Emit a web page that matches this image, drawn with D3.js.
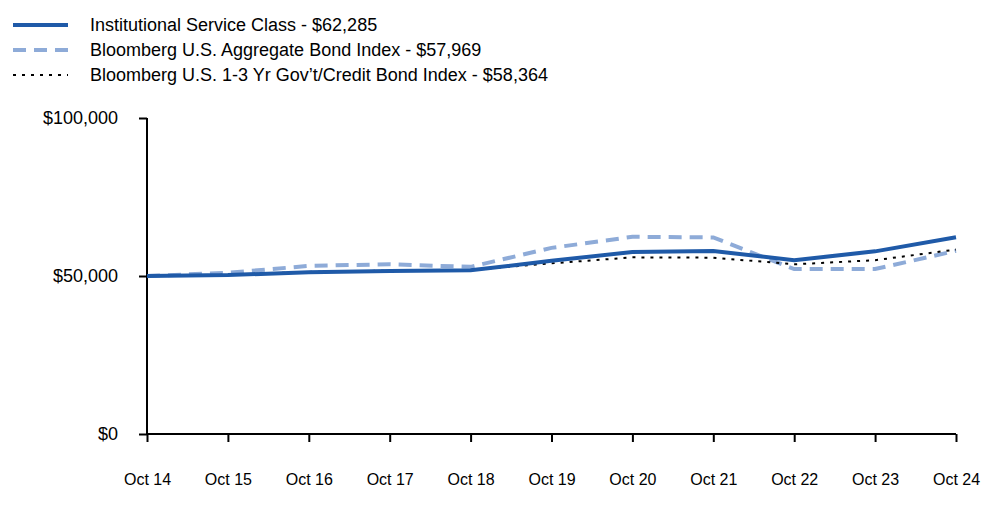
<!DOCTYPE html>
<html><head><meta charset="utf-8">
<script src="https://cdn.jsdelivr.net/npm/d3@7"></script>
<style>body{margin:0;background:#fff}svg{display:block}text{font-family:"Liberation Sans",Arial,sans-serif}</style>
</head><body>
<svg id="c" width="1000" height="523"></svg>
<script>
const categories = ["Oct 14","Oct 15","Oct 16","Oct 17","Oct 18","Oct 19","Oct 20","Oct 21","Oct 22","Oct 23","Oct 24"];
const institutional = [50000,50300,51200,51600,51800,54800,57600,57900,55000,57800,62285];
const aggregate = [50000,51000,53200,53700,52900,58900,62400,62200,52200,52200,57969];
const shortTerm = [50000,50400,51300,51700,51900,54000,55900,55800,53700,55000,58364];
const yTicks = [0,50000,100000];
const seriesNames = ["Institutional Service Class - $62,285","Bloomberg U.S. Aggregate Bond Index - $57,969","Bloomberg U.S. 1-3 Yr Gov\u2019t/Credit Bond Index - $58,364"];

const svg = d3.select("#c");
const x = d3.scalePoint().domain(categories).range([147,956]);
const y = d3.scaleLinear().domain([0,100000]).range([434,118]);

const styles = [
  {color:"#1f5aa8", width:4, dash:null},
  {color:"#8eabd8", width:4, dash:"13,8"},
  {color:"#000", width:2, dash:"3,6"}
];
const series = [institutional, aggregate, shortTerm];

// axes
const yAxis = svg.append("g").attr("transform","translate(147,0)")
  .call(d3.axisLeft(y).tickValues(yTicks).tickSize(8).tickPadding(21).tickFormat(d=>"$"+d3.format(",")(d)));
const xAxis = svg.append("g").attr("transform","translate(0,434)")
  .call(d3.axisBottom(x).tickSize(8).tickPadding(10));
[yAxis,xAxis].forEach(a=>{
  a.select(".domain").attr("stroke","#000").attr("stroke-width",2);
  a.selectAll(".tick line").attr("stroke","#000").attr("stroke-width",2);
  a.selectAll("text").attr("fill","#000").style("font-family","'Liberation Sans',Arial,sans-serif");
});
yAxis.selectAll("text").attr("font-size",18);
xAxis.selectAll("text").attr("font-size",16);
yAxis.select(".domain").attr("d","M0,118V434");
xAxis.select(".domain").attr("d","M147,0H956");
xAxis.selectAll(".tick text").attr("y",45).attr("dy","0.35em");

const line = d3.line().x((d,i)=>x(categories[i])).y(d=>y(d));
[1,2,0].forEach(k=>{
  svg.append("path").datum(series[k]).attr("d",line).attr("fill","none")
    .attr("stroke",styles[k].color).attr("stroke-width",styles[k].width)
    .attr("stroke-dasharray",styles[k].dash);
});

// legend
const leg = svg.append("g");
seriesNames.forEach((n,i)=>{
  const yy = 25 + i*25;
  leg.append("line").attr("x1",13).attr("x2",68).attr("y1",yy).attr("y2",yy)
    .attr("stroke",styles[i].color).attr("stroke-width",styles[i].width)
    .attr("stroke-dasharray",styles[i].dash);
  leg.append("text").attr("x",90).attr("y",yy).attr("dy","0.35em").attr("font-size",18).attr("fill","#000").text(n);
});
</script>
</body></html>
